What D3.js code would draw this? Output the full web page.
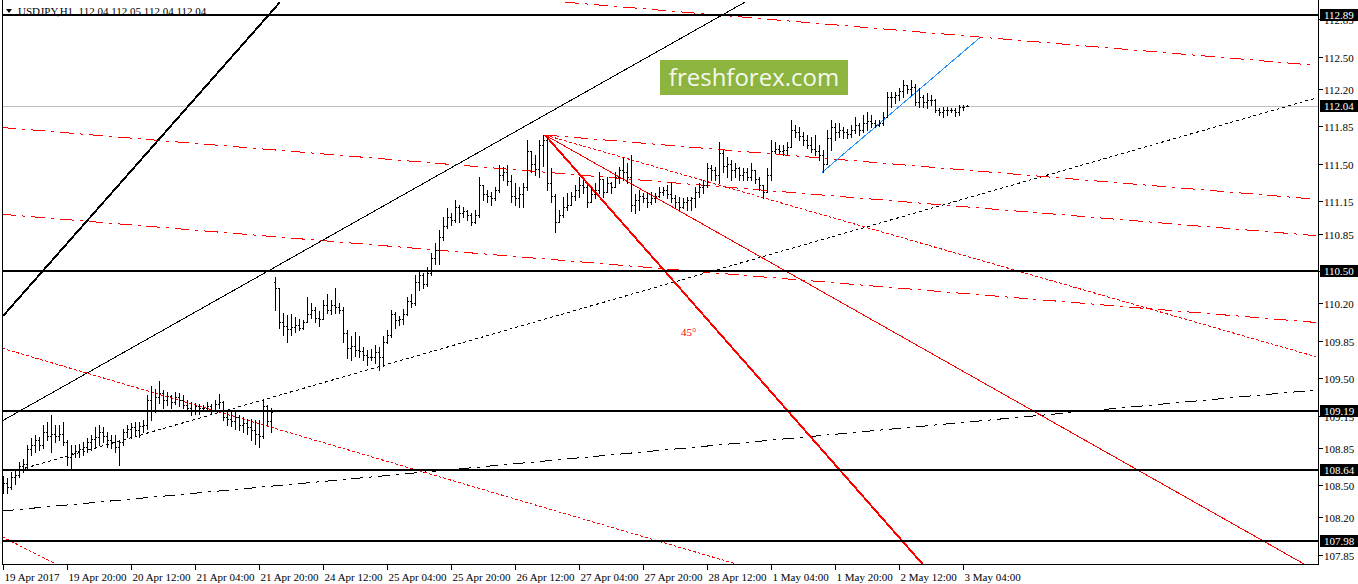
<!DOCTYPE html>
<html><head><meta charset="utf-8">
<script src="https://cdn.jsdelivr.net/npm/d3@7"></script>
<style>body{margin:0;background:#fff;overflow:hidden}svg{display:block}</style>
</head><body><svg id="c" width="1358" height="584"></svg>
<script>
// ---------- DATA ----------
const symbolTitle = "USDJPY,H1";
const lastQuote = [112.04, 112.05, 112.04, 112.04];
const bidPrice = 112.04;
const levelPrices = [112.89, 110.50, 109.19, 108.64, 107.98];
const priceTicks = [112.85,112.50,112.20,111.85,111.50,111.15,110.85,110.50,110.20,109.85,109.50,109.15,108.85,108.50,108.20,107.85];
const timeLabels = ["19 Apr 2017","19 Apr 20:00","20 Apr 12:00","21 Apr 04:00","21 Apr 20:00","24 Apr 12:00","25 Apr 04:00","25 Apr 20:00","26 Apr 12:00","27 Apr 04:00","27 Apr 20:00","28 Apr 12:00","1 May 04:00","1 May 20:00","2 May 12:00","3 May 04:00"];
const timeLabelBars = [0,16,32,48,64,80,96,112,128,144,160,176,192,208,224,240];

const open = [
108.47,108.52,108.48,108.58,108.60,108.68,108.70,108.84,108.88,108.92,
108.88,109.00,108.96,108.98,108.96,108.98,108.90,108.76,108.80,108.82,
108.84,108.86,108.90,108.93,108.95,109.00,108.96,108.92,108.90,108.86,
108.90,109.00,109.03,109.04,109.02,109.05,109.06,109.30,109.20,109.32,
109.36,109.30,109.33,109.28,109.32,109.30,109.25,109.22,109.20,109.24,
109.22,109.22,109.24,109.20,109.26,109.28,109.14,109.12,109.10,109.14,
109.06,109.08,109.04,109.02,108.98,108.96,109.24,109.10,
110.40,110.34,110.02,109.99,109.96,109.98,110.00,109.97,110.02,110.10,
110.14,110.06,110.05,110.18,110.14,110.18,110.16,110.14,109.92,109.78,
109.80,109.76,109.75,109.72,109.70,109.70,109.74,109.70,109.84,109.90,
110.10,110.04,110.05,110.10,110.22,110.20,110.40,110.46,110.38,110.48,
110.62,110.70,110.82,110.92,111.00,110.98,111.10,111.04,111.06,111.02,
110.96,111.02,111.30,111.22,111.20,111.18,111.26,111.40,111.42,111.34,
111.20,111.18,111.22,111.28,111.62,111.50,111.45,111.68,111.72,111.32,
111.20,
110.96,111.02,111.10,111.12,111.20,111.26,111.30,111.28,111.14,111.22,
111.26,111.36,111.24,111.32,111.28,111.38,111.44,111.42,111.38,111.12,
111.16,111.20,111.18,111.14,111.18,111.20,111.24,111.26,111.22,111.18,
111.14,111.10,111.14,111.16,111.18,111.24,111.28,111.30,111.46,111.44,
111.40,111.60,111.48,111.50,111.44,111.46,111.40,111.42,111.38,111.44,
111.36,111.30,111.24,111.40,111.62,111.64,111.62,111.63,111.66,111.82,
111.80,111.76,111.72,111.68,111.64,111.62,111.58,111.50,111.74,111.84,
111.80,111.82,111.80,111.78,111.82,111.86,111.82,111.88,111.90,111.88,
111.86,111.88,111.94,112.12,112.12,112.14,112.18,112.24,112.20,112.22,
112.08,112.12,112.08,112.10,112.10,112.00,111.98,112.00,112.00,112.00,
111.98,112.03,112.04];
const high = [
108.59,108.57,108.62,108.64,108.72,108.75,108.88,108.94,108.97,108.95,
109.06,109.09,109.16,109.06,109.06,109.09,108.92,108.88,108.88,108.89,
108.90,108.94,108.97,109.04,109.06,109.04,109.00,108.97,108.97,108.92,
109.03,109.06,109.08,109.09,109.09,109.11,109.34,109.43,109.40,109.47,
109.39,109.37,109.34,109.37,109.36,109.34,109.30,109.28,109.27,109.26,
109.25,109.28,109.26,109.30,109.35,109.29,109.20,109.18,109.18,109.16,
109.14,109.12,109.12,109.11,109.11,109.31,109.25,109.22,
110.44,110.34,110.11,110.09,110.10,110.07,110.05,110.04,110.26,110.20,
110.16,110.13,110.23,110.29,110.23,110.34,110.20,110.16,109.95,109.89,
109.93,109.89,109.79,109.76,109.77,109.81,109.79,109.89,109.95,110.14,
110.12,110.08,110.15,110.26,110.29,110.46,110.51,110.48,110.54,110.67,
110.76,110.88,111.00,111.09,111.04,111.16,111.12,111.10,111.07,111.04,
111.07,111.38,111.30,111.26,111.24,111.28,111.49,111.47,111.49,111.40,
111.32,111.28,111.32,111.72,111.62,111.58,111.72,111.77,111.74,111.46,
111.22,
111.07,111.19,111.23,111.24,111.30,111.38,111.35,111.30,111.28,111.32,
111.42,111.36,111.38,111.33,111.42,111.47,111.56,111.51,111.58,111.22,
111.26,111.23,111.24,111.24,111.23,111.28,111.28,111.30,111.33,111.21,
111.19,111.18,111.19,111.19,111.28,111.32,111.35,111.51,111.49,111.47,
111.70,111.63,111.56,111.54,111.51,111.47,111.46,111.46,111.51,111.44,
111.38,111.30,111.46,111.72,111.70,111.68,111.68,111.70,111.91,111.86,
111.84,111.80,111.77,111.75,111.77,111.68,111.63,111.82,111.91,111.88,
111.88,111.84,111.83,111.86,111.94,111.88,111.96,111.98,111.96,111.91,
111.91,111.98,112.17,112.17,112.17,112.21,112.28,112.24,112.28,112.25,
112.21,112.14,112.16,112.14,112.11,112.02,112.03,112.03,112.02,112.02,
112.05,112.05,112.05];
const low = [
108.43,108.43,108.47,108.51,108.58,108.62,108.66,108.78,108.81,108.83,
108.85,108.92,108.81,108.90,108.92,108.88,108.69,108.66,108.76,108.76,
108.78,108.81,108.83,108.85,108.88,108.90,108.86,108.85,108.81,108.69,
108.88,108.95,108.94,108.96,108.95,109.00,109.03,109.11,109.18,109.27,
109.22,109.25,109.22,109.26,109.24,109.22,109.19,109.16,109.17,109.17,
109.19,109.19,109.17,109.20,109.22,109.11,109.06,109.05,109.03,109.02,
109.00,108.98,108.92,108.89,108.86,108.94,109.06,109.00,
110.14,109.97,109.90,109.84,109.90,109.93,109.95,109.96,110.02,110.06,
110.02,109.99,110.05,110.11,110.10,110.11,110.11,109.84,109.69,109.67,
109.71,109.70,109.67,109.62,109.67,109.64,109.58,109.61,109.83,109.88,
109.97,110.00,110.01,110.09,110.16,110.18,110.32,110.34,110.36,110.46,
110.57,110.57,110.79,110.90,110.93,110.96,110.96,111.00,110.98,110.93,
110.95,111.00,111.16,111.14,111.12,111.16,111.24,111.35,111.30,111.14,
111.12,111.10,111.10,111.26,111.42,111.40,111.38,111.48,111.26,111.14,
110.86,
110.96,111.00,111.07,111.12,111.16,111.19,111.23,111.10,111.14,111.18,
111.23,111.19,111.24,111.23,111.28,111.32,111.35,111.32,111.06,111.04,
111.07,111.14,111.10,111.13,111.14,111.19,111.21,111.18,111.14,111.10,
111.07,111.09,111.07,111.07,111.10,111.19,111.23,111.28,111.35,111.35,
111.32,111.42,111.38,111.35,111.38,111.35,111.35,111.35,111.35,111.32,
111.26,111.18,111.24,111.35,111.60,111.60,111.58,111.58,111.66,111.75,
111.72,111.68,111.65,111.61,111.58,111.54,111.42,111.50,111.63,111.72,
111.75,111.74,111.74,111.75,111.79,111.77,111.80,111.82,111.84,111.84,
111.85,111.86,111.94,112.03,112.07,112.10,112.12,112.16,112.14,112.05,
112.03,112.03,112.02,112.05,111.98,111.96,111.94,111.96,111.98,111.95,
111.96,112.00,112.04];
const close = [
108.52,108.48,108.58,108.60,108.68,108.70,108.84,108.88,108.92,108.88,
109.00,108.96,108.98,108.96,108.98,108.90,108.76,108.80,108.82,108.84,
108.86,108.90,108.93,108.95,109.00,108.96,108.92,108.90,108.86,108.90,
109.00,109.03,109.04,109.02,109.05,109.06,109.30,109.20,109.32,109.36,
109.30,109.33,109.28,109.32,109.30,109.25,109.22,109.20,109.24,109.22,
109.22,109.24,109.20,109.26,109.28,109.14,109.12,109.10,109.14,109.06,
109.08,109.04,109.02,108.98,108.96,109.24,109.10,109.18,
110.34,110.02,109.99,109.96,109.98,110.00,109.97,110.02,110.10,110.14,
110.06,110.05,110.18,110.14,110.18,110.16,110.14,109.92,109.78,109.80,
109.76,109.75,109.72,109.70,109.70,109.74,109.70,109.84,109.90,110.10,
110.04,110.05,110.10,110.22,110.20,110.40,110.46,110.38,110.48,110.62,
110.70,110.82,110.92,111.00,110.98,111.10,111.04,111.06,111.02,110.96,
111.02,111.30,111.22,111.20,111.18,111.26,111.40,111.42,111.34,111.20,
111.18,111.22,111.28,111.62,111.50,111.45,111.68,111.72,111.32,111.20,
110.96,
111.02,111.10,111.12,111.20,111.26,111.30,111.28,111.14,111.22,111.26,
111.36,111.24,111.32,111.28,111.38,111.44,111.42,111.38,111.12,111.16,
111.20,111.18,111.14,111.18,111.20,111.24,111.26,111.22,111.18,111.14,
111.10,111.14,111.16,111.18,111.24,111.28,111.30,111.46,111.44,111.40,
111.60,111.48,111.50,111.44,111.46,111.40,111.42,111.38,111.44,111.36,
111.30,111.24,111.40,111.62,111.64,111.62,111.63,111.66,111.82,111.80,
111.76,111.72,111.68,111.64,111.62,111.58,111.50,111.74,111.84,111.80,
111.82,111.80,111.78,111.82,111.86,111.82,111.88,111.90,111.88,111.86,
111.88,111.94,112.12,112.12,112.14,112.18,112.24,112.20,112.22,112.08,
112.12,112.08,112.10,112.10,112.00,111.98,112.00,112.00,112.00,111.98,
112.03,112.03,112.04];

// trend lines: [barIndex1, price1, barIndex2, price2]
const lineBlackThick = [0, 110.08, 69.25, 113.01];
const lineBlackThin = [-0.25, 109.10, 185.5, 113.01];
const lineBlackDotted = [5.5, 108.66, 328.25, 112.115];
const lineBlackDashDot = [-0.25, 108.26, 328.25, 109.39];
const lineRedTop = [140.5, 113.01, 328.25, 112.42];
const lineRedUpper = [-0.25, 111.84, 328.25, 110.83];
const lineRedFromPeak = [135.5, 111.77, 328.25, 111.17];
const lineRedLower = [-0.25, 111.03, 328.25, 110.02];
const lineRedPeakDot = [135.5, 111.77, 328.25, 109.70];
const lineRedDotLeft = [-0.25, 109.78, 184.25, 107.755];
const lineRedDotCorner = [-0.25, 108.02, 13, 107.77];
const lineRedFanThin = [135.5, 111.77, 325.5, 107.76];
const lineRedFan45 = [135.5, 111.77, 230, 107.76];
const lineBlue = [204.75, 111.42, 244.25, 112.68];
const fanLabel = "45°";
const fanLabelAt = [169.5, 109.89];
const watermark = "freshforex.com";

// ---------- DRAW ----------
const svg = d3.select('#c');
const plotL = 2, plotR = 1318, plotT = 0, plotB = 564;
const x = d3.scaleLinear().domain([0, 241]).range([3, 967]);
const y = d3.scaleLinear().domain([107.98, 112.89]).range([541, 15]);

let FONT = "'Liberation Sans Narrow'", FS = 11;
{
  const probe = svg.append('text').attr('font-family', FONT).attr('font-size', FS).text('112.50');
  const pw = probe.node().getComputedTextLength(); probe.remove();
  if (!(pw > 24 && pw < 31)) { FONT = "'Liberation Sans', Arial, sans-serif"; FS = 9.5; }
}

svg.append('rect').attr('width', 1358).attr('height', 584).attr('fill', '#fff');
svg.append('defs').append('clipPath').attr('id', 'clip').append('rect')
  .attr('x', plotL).attr('y', plotT).attr('width', plotR - plotL).attr('height', plotB - plotT);

const plot = svg.append('g').attr('clip-path', 'url(#clip)').attr('shape-rendering', 'crispEdges');

// watermark
plot.append('rect').attr('x', 660).attr('y', 60).attr('width', 188).attr('height', 35).attr('fill', '#8cb43e');
plot.append('text').attr('x', 754).attr('y', 86).attr('text-anchor', 'middle')
  .attr('font-family', "'Open Sans', 'Noto Sans', sans-serif").attr('font-size', 24)
  .attr('fill', '#f4f8ee').attr('shape-rendering', 'auto').text(watermark);

// bid line
plot.append('line').attr('x1', plotL).attr('x2', plotR)
  .attr('y1', Math.round(y(bidPrice)) + 0.5).attr('y2', Math.round(y(bidPrice)) + 0.5)
  .attr('stroke', '#c0c0c0').attr('stroke-width', 1);

function trend(d, color, w, dash) {
  const ln = plot.append('line')
    .attr('x1', x(d[0])).attr('y1', y(d[1])).attr('x2', x(d[2])).attr('y2', y(d[3]))
    .attr('stroke', color).attr('stroke-width', w).attr('fill', 'none');
  if (dash) ln.attr('stroke-dasharray', dash);
}
const RED = '#ff0000';
const DASHDOT = '14,6,3,6';
trend(lineBlackDotted, '#000', 1, '3,3');
trend(lineBlackDashDot, '#000', 1, '12,6,3,6');
trend(lineRedTop, RED, 1, DASHDOT);
trend(lineRedUpper, RED, 1, DASHDOT);
trend(lineRedFromPeak, RED, 1, DASHDOT);
trend(lineRedLower, RED, 1, DASHDOT);
trend(lineRedPeakDot, RED, 1, '3,2');
trend(lineRedDotLeft, RED, 1, '3,2');
trend(lineRedDotCorner, RED, 1, '3,2');
trend(lineRedFanThin, RED, 1, null);
trend(lineRedFan45, RED, 2, null);
trend(lineBlackThin, '#000', 1, null);
trend(lineBlackThick, '#000', 2, null);
trend(lineBlue, '#1e90ff', 1, null);

// horizontal levels
levelPrices.forEach(p => {
  const yy = Math.round(y(p));
  plot.append('rect').attr('x', plotL).attr('y', yy - 1).attr('width', plotR - plotL).attr('height', 2).attr('fill', '#000');
});

// 45 label
plot.append('text').attr('x', x(fanLabelAt[0])).attr('y', y(fanLabelAt[1]))
  .attr('font-family', FONT).attr('font-size', FS).attr('fill', RED).text(fanLabel);

// OHLC bars
const bars = plot.append('g').attr('fill', '#000');
open.forEach((o, i) => {
  const bx = Math.round(x(i));
  const yh = Math.round(y(high[i])), yl = Math.round(y(low[i]));
  bars.append('rect').attr('x', bx).attr('y', yh).attr('width', 1).attr('height', Math.max(1, yl - yh + 1));
  bars.append('rect').attr('x', bx - 1).attr('y', Math.round(y(o))).attr('width', 1).attr('height', 1);
  bars.append('rect').attr('x', bx + 1).attr('y', Math.round(y(close[i]))).attr('width', 1).attr('height', 1);
});

// frame
const frame = svg.append('g').attr('shape-rendering', 'crispEdges').attr('stroke', '#000').attr('stroke-width', 1);
frame.append('line').attr('x1', plotL + 0.5).attr('x2', plotL + 0.5).attr('y1', 0).attr('y2', plotB + 0.5);
frame.append('line').attr('x1', plotR + 0.5).attr('x2', plotR + 0.5).attr('y1', 0).attr('y2', plotB + 0.5);
frame.append('line').attr('x1', plotL).attr('x2', plotR + 1).attr('y1', plotB + 0.5).attr('y2', plotB + 0.5);

// right price axis
const yAxis = d3.axisRight(y).tickValues(priceTicks).tickSize(4).tickPadding(2).tickFormat(d3.format('.2f'));
const ya = svg.append('g').attr('transform', `translate(${plotR + 0.5},0)`).attr('shape-rendering', 'crispEdges').call(yAxis);
ya.select('.domain').remove();
ya.selectAll('.tick').attr('transform', d => `translate(0,${Math.round(y(d)) + 0.5})`);
ya.selectAll('.tick line').attr('stroke', '#000');
ya.selectAll('.tick text').attr('font-family', FONT).attr('font-size', FS).attr('fill', '#000')
  .attr('x', 5.5).attr('dy', null).attr('y', 4);

// boxed price labels
const boxed = levelPrices.concat([bidPrice]);
const bg = svg.append('g').attr('shape-rendering', 'crispEdges');
boxed.forEach(p => {
  const yy = Math.round(y(p));
  bg.append('rect').attr('x', plotR + 2).attr('y', yy - 6).attr('width', 38).attr('height', 12).attr('fill', '#000');
  bg.append('text').attr('x', plotR + 6).attr('y', yy + 4).attr('font-family', FONT).attr('font-size', FS)
    .attr('fill', '#fff').text(d3.format('.2f')(p));
});

// bottom time axis
const xAxis = d3.axisBottom(x).tickValues(timeLabelBars).tickSize(5).tickFormat((d, i) => timeLabels[i]);
const xa = svg.append('g').attr('transform', `translate(0,${plotB + 0.5})`).attr('shape-rendering', 'crispEdges').call(xAxis);
xa.select('.domain').remove();
xa.selectAll('.tick').attr('transform', d => `translate(${Math.round(x(d)) + 0.5},0)`);
xa.selectAll('.tick line').attr('stroke', '#000');
xa.selectAll('.tick text').attr('font-family', FONT).attr('font-size', FS).attr('fill', '#000')
  .attr('text-anchor', 'start').attr('x', 1).attr('dy', null).attr('y', 16);

// title
svg.append('path').attr('d', 'M6,9L12,9L9,13Z').attr('fill', '#000');
svg.append('text').attr('x', 18).attr('y', 15).attr('font-family', FONT).attr('font-size', FS).attr('fill', '#000')
  .style('white-space', 'pre').text(symbolTitle + '  ' + lastQuote.map(d3.format('.2f')).join(' '));
</script></body></html>
